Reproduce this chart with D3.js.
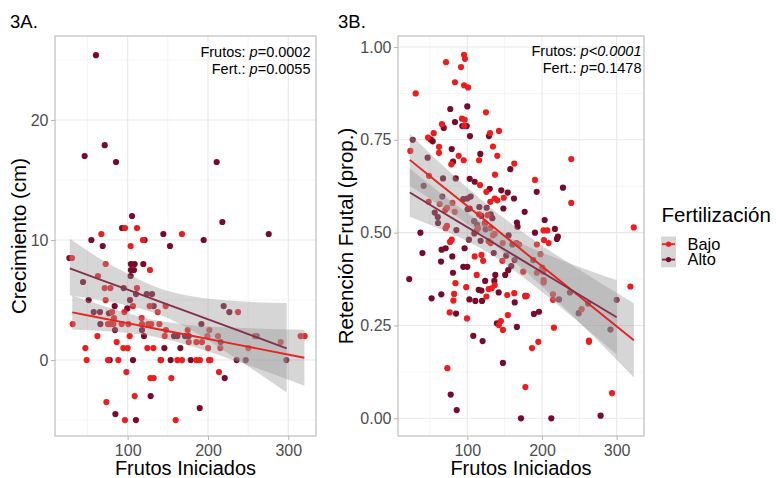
<!DOCTYPE html>
<html>
<head>
<meta charset="utf-8">
<script src="https://cdn.jsdelivr.net/npm/d3@7"></script>
<style>
  body { margin: 0; background: #fff; }
  svg { display: block; font-family: "Liberation Sans", Arial, sans-serif; }
</style>
</head>
<body>
<svg id="chart" width="776" height="478"></svg>
<script>
/* ---- data ---- */
const groups = ["Bajo", "Alto"];

// 3A — Crecimiento (cm) vs Frutos Iniciados
const aBajoX = [96.7,111.6,67.2,167.6,119,103.7,30.6,72.6,127.8,63,71.4,78.5,111.6,72.6,106.6,127.4,147.3,80.6,95.9,137.4,237.4,83,117.4,31.5,75.5,78.8,82.2,92.5,100.9,117.8,125.7,129.4,139.5,147.7,174.7,201.7,62.3,102.5,146.1,199.3,212.5,258.5,315.4,320.4,290.5,86.3,176,185.5,192.5,47.3,94.6,100,124.5,132,200.2,215.4,250.3,48.9,75.5,88.4,141.5,161.9,167.6,185.5,190,201.2,203,98.4,213.7,128.3,132.4,154.4,108.7,73.5,96.6,159.8];
const aBajoY = [11,11,10.5,10.5,10,9.5,8.5,8,7.5,7,6,6,6,5,4.5,4.5,4.5,4,4,4,4,3.5,3.5,3,3,3,3,3,3,3,3,3,3,2.5,2.5,2.5,2,2,2,2,2,2,2,2,1.5,1.5,1.5,1.5,1.5,1,1,1,1,1,1,1,1,0,0,0,0,0,0,0,0,0,0,-1,-1,-1.5,-1.5,-1.5,-3,-3.5,-5,-5];
const aAltoX = [60.5,71.4,46.4,85.5,210.8,105.4,217.9,93,144.4,275.6,54.8,121,194.6,68.9,152.7,27.4,104,108.7,119.5,104,107.8,103.7,44.4,95,110.4,123.7,130.3,51.4,102.9,83.8,132.4,219.5,99.6,57.7,65.5,76.7,226.6,66,191.8,84.2,117.8,120.3,157.7,161.9,171.4,176,260.6,215.8,145.7,165.6,77.6,106.6,141,153.5,178.5,235.7,247,297.6,220.8,128.6,84.7,189.7,110.3];
const aAltoY = [25.4,17.9,17,16.5,16.5,12,11.5,11,10.5,10.5,10,10,10,9.5,9.5,8.5,8,8,8,7.5,7.5,7,6.5,6,5.5,5.5,5.5,5,5,4.5,4.5,4.5,4.3,4,4,3.9,4,3,3,2.5,2.5,2,2,2,2,2,2,1.5,1,1,0,0,0,0,0,0,0,0,-1.5,-3,-4.5,-4,-5];

// fitted lines and confidence bands (3A)
const aBajoFitX  = [31, 70, 100, 135, 170, 230, 320];
const aBajoFitY  = [3.97, 3.46, 3.07, 2.61, 2.15, 1.37, 0.19];
const aBajoFitLo = [2.54, 2.41, 2.25, 1.91, 1.33, 0.03, -2.14];
const aBajoFitHi = [5.40, 4.51, 3.89, 3.31, 2.97, 2.71, 2.52];
const aAltoFitX  = [28, 70, 100, 140, 180, 240, 298];
const aAltoFitY  = [7.64, 6.60, 5.86, 4.87, 3.89, 2.40, 0.97];
const aAltoFitLo = [5.4, 4.93, 4.54, 3.77, 2.47, -0.09, -2.7];
const aAltoFitHi = [10.1, 8.27, 7.18, 5.97, 5.31, 4.89, 4.75];

// 3B — Retención Frutal (prop.) vs Frutos Iniciados
const bBajoX = [95.6,96.9,71.5,91.6,83.5,95.6,101,30.9,125,92.9,96.5,96,66.1,55,142.4,130.4,47.4,134.4,62.1,23.7,62.1,140.2,88.5,95.2,78.6,115.7,239.2,162.9,48.7,137.1,190.6,117,125.5,136.7,148.8,48.2,63,80.1,130.8,140.2,239.2,72.8,70.6,83.2,115.8,127.3,123.5,72.8,114.4,130.8,71,112.5,202.2,207.1,136.7,134.5,79.1,76.9,128.6,131.3,147.4,165.8,169.3,202.6,208.9,193.1,197.9,109.9,118.9,121.2,147,200.4,201.7,193.1,112.6,174.9,202.2,202.2,84.1,136.7,98.6,128.6,132.6,82.3,162.9,214.8,318.4,322.9,81.3,125.6,153.5,177.8,179.6,214.8,76.4,99.6,145,142.2,154.3,216,253.1,262.9,262.9,147.7,195.1,186.6,73.3,177.8,293.7];
const bBajoY = [0.979,0.968,0.959,0.946,0.905,0.897,0.891,0.875,0.824,0.807,0.804,0.787,0.792,0.768,0.774,0.768,0.756,0.732,0.731,0.72,0.715,0.707,0.707,0.695,0.684,0.695,0.698,0.686,0.653,0.656,0.642,0.628,0.61,0.592,0.594,0.583,0.577,0.58,0.583,0.587,0.58,0.567,0.561,0.556,0.549,0.547,0.524,0.518,0.512,0.512,0.512,0.506,0.506,0.506,0.497,0.493,0.481,0.475,0.477,0.472,0.472,0.472,0.468,0.48,0.472,0.468,0.442,0.436,0.44,0.424,0.424,0.406,0.395,0.392,0.386,0.395,0.372,0.366,0.364,0.359,0.353,0.348,0.35,0.335,0.337,0.334,0.355,0.514,0.317,0.328,0.332,0.328,0.33,0.319,0.285,0.269,0.262,0.251,0.278,0.244,0.294,0.209,0.206,0.238,0.206,0.189,0.135,0.084,0.068];
const bAltoX = [77.2,100,83.5,93.3,99.2,68.4,103.6,129,51,53.7,26.9,79.1,117.4,46.9,80.9,157.6,67.5,84.5,103.2,109.9,41.6,130,145.5,154.1,192.9,228.1,66.5,94.6,100,104.5,162.5,100.4,103.1,116.1,125.9,148.3,56.4,176.8,60.5,118.9,131.3,133.5,203.6,109.1,113.1,123.5,166.4,167.3,60.8,124.4,85.4,109.4,190.6,217.3,37.2,155.3,221.3,220,102.2,117.8,160.4,71,65.6,96.3,39.9,79.9,135.4,152.1,163.3,188.3,64.8,94.6,100,158.9,80.8,154.8,150.8,137.5,22.2,123.9,136.2,115.3,118.9,142,65.2,177.7,237.5,52.2,102.8,110.8,119.7,163.5,222.8,300,84.9,139.6,166.4,189.2,196,249.1,261.8,291.7,108,120.5,147.7,77.8,85.8,171.9,212.5,278.5];
const bAltoY = [0.833,0.84,0.798,0.787,0.787,0.782,0.76,0.76,0.751,0.746,0.75,0.725,0.712,0.702,0.691,0.671,0.646,0.646,0.645,0.637,0.626,0.618,0.614,0.608,0.61,0.621,0.597,0.59,0.592,0.597,0.592,0.563,0.565,0.569,0.567,0.565,0.554,0.556,0.542,0.545,0.549,0.539,0.534,0.531,0.521,0.526,0.527,0.516,0.526,0.509,0.507,0.498,0.5,0.51,0.5,0.493,0.489,0.483,0.481,0.478,0.468,0.458,0.454,0.458,0.445,0.436,0.445,0.438,0.426,0.426,0.422,0.408,0.408,0.41,0.392,0.399,0.386,0.386,0.375,0.37,0.37,0.346,0.344,0.339,0.334,0.33,0.339,0.323,0.32,0.316,0.316,0.312,0.32,0.319,0.282,0.256,0.246,0.281,0.287,0.283,0.309,0.239,0.222,0.208,0.149,0.064,0.022,0,0,0.007];

// fitted lines and confidence bands (3B)
const bBajoFitX  = [23, 60, 100, 135, 180, 240, 323];
const bBajoFitY  = [0.696, 0.636, 0.572, 0.515, 0.442, 0.345, 0.210];
const bBajoFitLo = [0.626, 0.578, 0.523, 0.469, 0.392, 0.278, 0.110];
const bBajoFitHi = [0.766, 0.694, 0.621, 0.561, 0.493, 0.413, 0.310];
const bAltoFitX  = [23, 60, 100, 125, 170, 230, 300];
const bAltoFitY  = [0.608, 0.563, 0.515, 0.485, 0.430, 0.357, 0.272];
const bAltoFitLo = [0.543, 0.513, 0.477, 0.450, 0.387, 0.291, 0.172];
const bAltoFitHi = [0.673, 0.613, 0.553, 0.520, 0.473, 0.423, 0.372];

// ticks
const xTicks = [100, 200, 300];
const xMinor = [50, 150, 250];
const aYTicks = [0, 10, 20];
const aYMinor = [-5, 5, 15, 25];
const bYTicks = [0, 0.25, 0.5, 0.75, 1];
const bYMinor = [0.125, 0.375, 0.625, 0.875];

/* ---- drawing ---- */
const COL = { Bajo: "#ee1c1c", Alto: "#780b2b" };
const LINE_COL = { Bajo: "#e8221e", Alto: "#85304a" };
const zip = (xs, ys) => xs.map((x, i) => ({ x, y: ys[i] }));
const band = (xs, lo, hi) => xs.map((x, i) => ({ x, lo: lo[i], hi: hi[i] }));

const svg = d3.select("#chart");

const panels = [
  {
    tag: "3A.", tagX: 10,
    box: { l: 55, r: 316, t: 36, b: 436 },
    xDom: [9.5, 334.5], yDom: [-6.33, 27.0],
    yTicks: aYTicks, yMinor: aYMinor, yFmt: d => d,
    yTitle: "Crecimiento (cm)", yTitleX: 26,
    pts: { Bajo: zip(aBajoX, aBajoY), Alto: zip(aAltoX, aAltoY) },
    fit: {
      Bajo: { line: zip(aBajoFitX, aBajoFitY), band: band(aBajoFitX, aBajoFitLo, aBajoFitHi) },
      Alto: { line: zip(aAltoFitX, aAltoFitY), band: band(aAltoFitX, aAltoFitLo, aAltoFitHi) }
    },
    note: [["Frutos: ", "p", "=0.0002"], ["Fert.: ", "p", "=0.0055"]],
    noteX: 310.5, noteY: [56.7, 74]
  },
  {
    tag: "3B.", tagX: 338,
    box: { l: 398, r: 644, t: 36, b: 436 },
    xDom: [7.2, 336.6], yDom: [-0.0477, 1.0296],
    yTicks: bYTicks, yMinor: bYMinor, yFmt: d3.format(".2f"),
    yTitle: "Retención Frutal (prop.)", yTitleX: 353,
    pts: { Bajo: zip(bBajoX, bBajoY), Alto: zip(bAltoX, bAltoY) },
    fit: {
      Bajo: { line: zip(bBajoFitX, bBajoFitY), band: band(bBajoFitX, bBajoFitLo, bBajoFitHi) },
      Alto: { line: zip(bAltoFitX, bAltoFitY), band: band(bAltoFitX, bAltoFitLo, bAltoFitHi) }
    },
    note: [["Frutos: ", "p<0.0001", ""], ["Fert.: ", "p", "=0.1478"]],
    noteX: 641.5, noteY: [55.7, 72.7]
  }
];

panels.forEach(p => {
  const { l, r, t, b } = p.box;
  const x = d3.scaleLinear().domain(p.xDom).range([l, r]);
  const y = d3.scaleLinear().domain(p.yDom).range([b, t]);
  const g = svg.append("g");

  // panel background + grid
  g.append("rect").attr("x", l).attr("y", t).attr("width", r - l).attr("height", b - t).attr("fill", "#fff");
  g.selectAll(".vmin").data(xMinor).join("line")
    .attr("x1", d => x(d)).attr("x2", d => x(d)).attr("y1", t).attr("y2", b)
    .attr("stroke", "#f3f3f3").attr("stroke-width", 0.8);
  g.selectAll(".hmin").data(p.yMinor).join("line")
    .attr("x1", l).attr("x2", r).attr("y1", d => y(d)).attr("y2", d => y(d))
    .attr("stroke", "#f3f3f3").attr("stroke-width", 0.8);
  g.selectAll(".vmaj").data(xTicks).join("line")
    .attr("x1", d => x(d)).attr("x2", d => x(d)).attr("y1", t).attr("y2", b)
    .attr("stroke", "#e8e8e8").attr("stroke-width", 1.1);
  g.selectAll(".hmaj").data(p.yTicks).join("line")
    .attr("x1", l).attr("x2", r).attr("y1", d => y(d)).attr("y2", d => y(d))
    .attr("stroke", "#e8e8e8").attr("stroke-width", 1.1);

  // points
  groups.slice().reverse().forEach(k => {
    g.append("g").selectAll("circle").data(p.pts[k]).join("circle")
      .attr("cx", d => x(d.x)).attr("cy", d => y(d.y)).attr("r", 3.1)
      .attr("fill", COL[k]);
  });

  // confidence bands
  const area = d3.area().x(d => x(d.x)).y0(d => y(d.lo)).y1(d => y(d.hi)).curve(d3.curveMonotoneX);
  groups.forEach(k => {
    g.append("path").datum(p.fit[k].band).attr("d", area)
      .attr("fill", "#999999").attr("fill-opacity", 0.4);
  });

  // fitted lines
  const line = d3.line().x(d => x(d.x)).y(d => y(d.y));
  groups.forEach(k => {
    g.append("path").datum(p.fit[k].line).attr("d", line)
      .attr("fill", "none").attr("stroke", LINE_COL[k]).attr("stroke-width", 1.9);
  });

  // border
  g.append("rect").attr("x", l).attr("y", t).attr("width", r - l).attr("height", b - t)
    .attr("fill", "none").attr("stroke", "#b8b8b8").attr("stroke-width", 1.1);

  // axes
  const ax = g.append("g").attr("transform", `translate(0,${b})`)
    .call(d3.axisBottom(x).tickValues(xTicks).tickSize(4).tickPadding(4.5));
  const ay = g.append("g").attr("transform", `translate(${l},0)`)
    .call(d3.axisLeft(y).tickValues(p.yTicks).tickFormat(p.yFmt).tickSize(4).tickPadding(2.5));
  [ax, ay].forEach(a => {
    a.select(".domain").remove();
    a.selectAll("line").attr("stroke", "#b8b8b8").attr("stroke-width", 1.1);
    a.selectAll("text").attr("fill", "#4d4d4d")
      .style("font-size", "16px").style("font-family", "Liberation Sans, Arial, sans-serif");
  });

  // axis titles
  svg.append("text").attr("x", (l + r) / 2).attr("y", 474.5)
    .attr("text-anchor", "middle").style("font-size", "20px").attr("fill", "#000")
    .text("Frutos Iniciados");
  svg.append("text").attr("transform", `translate(${p.yTitleX},${(t + b) / 2}) rotate(-90)`)
    .attr("text-anchor", "middle").style("font-size", "20.5px").attr("fill", "#000")
    .text(p.yTitle);

  // panel tag
  svg.append("text").attr("x", p.tagX).attr("y", 28.3)
    .style("font-size", "18.5px").attr("fill", "#000").text(p.tag);

  // p-value notes
  p.note.forEach((parts, i) => {
    const tx = svg.append("text").attr("x", p.noteX).attr("y", p.noteY[i])
      .attr("text-anchor", "end").style("font-size", "14.5px").attr("fill", "#000");
    tx.append("tspan").text(parts[0]);
    tx.append("tspan").style("font-style", "italic").text(parts[1]);
    if (parts[2]) tx.append("tspan").text(parts[2]);
  });
});

/* ---- legend ---- */
const lg = svg.append("g");
lg.append("text").attr("x", 661.5).attr("y", 222.3)
  .style("font-size", "20.5px").attr("fill", "#000").text("Fertilización");
groups.forEach((k, i) => {
  const ky = 236.5 + i * 15.4;
  lg.append("rect").attr("x", 661).attr("y", ky).attr("width", 15).attr("height", 15.4)
    .attr("fill", "#999999").attr("fill-opacity", 0.4);
  lg.append("line").attr("x1", 662).attr("x2", 675).attr("y1", ky + 7.7).attr("y2", ky + 7.7)
    .attr("stroke", LINE_COL[k]).attr("stroke-width", 1.9);
  lg.append("circle").attr("cx", 668.5).attr("cy", ky + 7.7).attr("r", 2.6).attr("fill", COL[k]);
  lg.append("text").attr("x", 687.5).attr("y", ky + 13.5)
    .style("font-size", "16.4px").attr("fill", "#000").text(k);
});
</script>
</body>
</html>
